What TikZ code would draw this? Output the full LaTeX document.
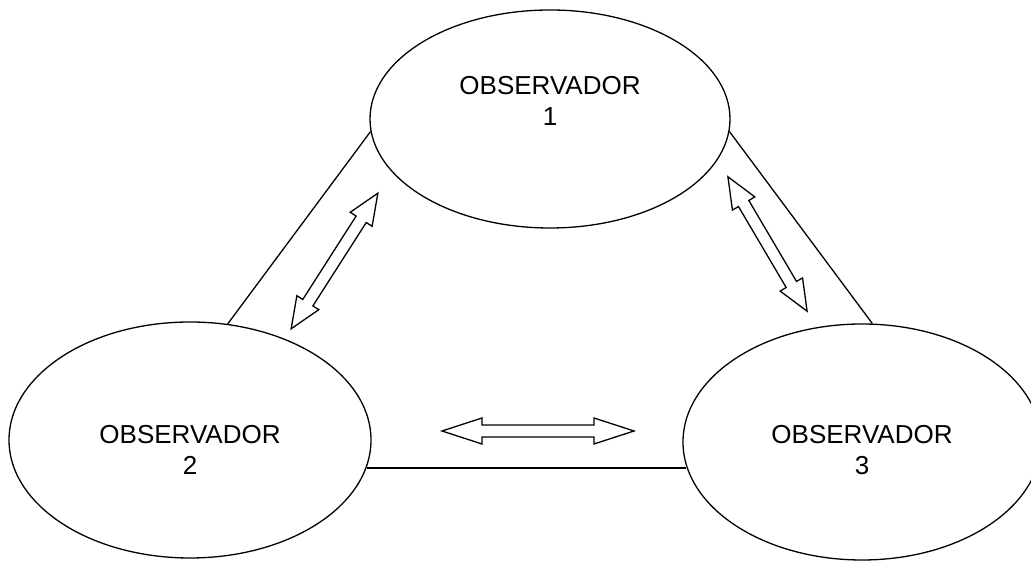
\documentclass[tikz,border=0pt]{standalone}
\usepackage{fontspec}
\setmainfont{Liberation Sans}
\usetikzlibrary{shapes.geometric}
\begin{document}
\begin{tikzpicture}[x=1pt,y=1pt,
    obs/.style={draw, ellipse, line width=1.3pt, inner sep=0pt},
    lbl/.style={align=center, font=\fontsize{26}{31}\selectfont},
    link/.style={line width=1.3pt},
    pics/twoway/.style 2 args={code={
      \draw [line width=1.3pt, line join=miter]
        (-#1/2,0) -- ++(#2,13) -- ++(0,-7) -- (#1/2-#2,6) -- ++(0,7)
        -- (#1/2,0) -- ++(-#2,-13) -- ++(0,7) -- (-#1/2+#2,-6) -- ++(0,-7) -- cycle;
    }}]
    \useasboundingbox (0,0) rectangle (1031,561);
    \node [obs, minimum width=360pt, minimum height=218pt] (obs1) at (550,442) {};
    \node [obs, minimum width=362pt, minimum height=236pt] (obs2) at (190,121) {};
    \node [obs, minimum width=358pt, minimum height=236pt] (obs3) at (862,119) {};
    \node [lbl] (txt1) at ([yshift=18pt]obs1.center) {OBSERVADOR\\1};
    \node [lbl] (txt2) at ([yshift=-10pt]obs2.center) {OBSERVADOR\\2};
    \node [lbl] (txt3) at ([yshift=-8pt]obs3.center) {OBSERVADOR\\3};
    % lados del triangulo
    \draw [link] (obs1.184) -- (obs2.72);
    \draw [link] (obs1.356) -- (obs3.85);
    \draw [link] (obs2.351) -- (obs2.351 -| obs3.188);
    % flechas dobles
    \pic (a12) [rotate=57.4] at (334.5,300) {twoway={161}{31}};
    \pic (a13) [rotate=120.5] at (767.5,317) {twoway={156}{31}};
    \pic (a23) at (538,130) {twoway={192}{40}};
\end{tikzpicture}
\end{document}
